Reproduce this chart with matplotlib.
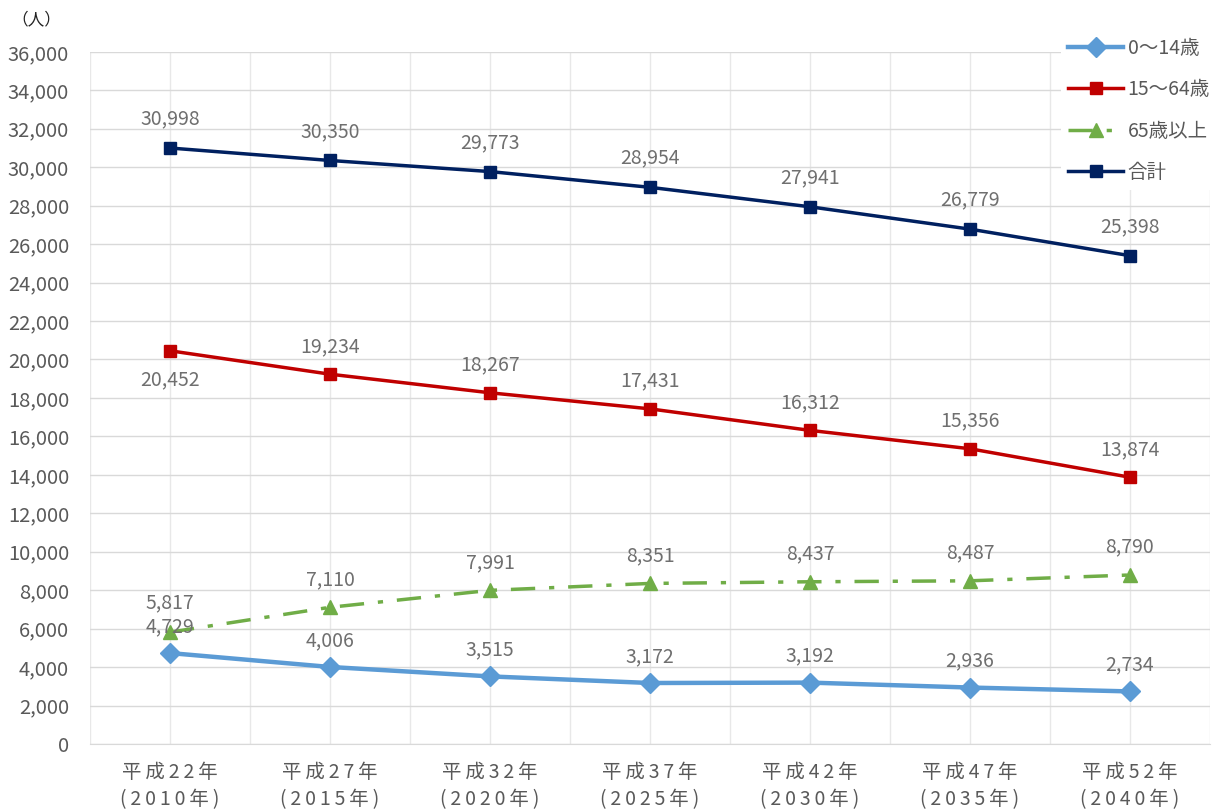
import numpy as np
import matplotlib.pyplot as plt
from matplotlib.ticker import FuncFormatter, MultipleLocator

plt.rcParams['font.family'] = ['Noto Sans CJK JP', 'DejaVu Sans']

years = ["平成22年\n(2010年)", "平成27年\n(2015年)", "平成32年\n(2020年)",
         "平成37年\n(2025年)", "平成42年\n(2030年)", "平成47年\n(2035年)",
         "平成52年\n(2040年)"]
age_0_14 = [4729, 4006, 3515, 3172, 3192, 2936, 2734]
age_15_64 = [20452, 19234, 18267, 17431, 16312, 15356, 13874]
age_65_up = [5817, 7110, 7991, 8351, 8437, 8487, 8790]
total = [30998, 30350, 29773, 28954, 27941, 26779, 25398]

text_col = '#595959'
label_col = '#6f6f6f'
x = np.arange(len(years))

fig = plt.figure(figsize=(12.16, 8.10), dpi=100)
ax = fig.add_axes([0.074, 0.0815, 0.921, 0.8545])

ax.plot(x, age_0_14, color='#5B9BD5', lw=3.2, marker='D', ms=10, label='0～14歳', zorder=3)
ax.plot(x, age_15_64, color='#C00000', lw=2.5, marker='s', ms=9, label='15～64歳', zorder=3)
ax.plot(x, age_65_up, color='#70AD47', lw=2.5, ls=(0, (7, 4, 1.5, 4)), marker='^', ms=10,
        label='65歳以上', zorder=3)
ax.plot(x, total, color='#002060', lw=2.5, marker='s', ms=9, label='合計', zorder=3)

def put_labels(vals, dy):
    for i, v in enumerate(vals):
        off = dy[i] if isinstance(dy, list) else dy
        ax.annotate(f'{v:,}', (i, v), xytext=(0, off), textcoords='offset points',
                    ha='center', va='center', fontsize=14, color=label_col, zorder=4)

put_labels(age_0_14, 19)
put_labels(age_15_64, [-21] + [20] * 6)
put_labels(age_65_up, [21] + [20] * 6)
put_labels(total, 21)

# spread the category labels out a little (letter spacing)
spaced = ['\n'.join('\u2009'.join(line) for line in y.split('\n')) for y in years]

ax.set_xlim(-0.5, len(years) - 0.5)
ax.set_ylim(0, 36000)
ax.yaxis.set_major_locator(MultipleLocator(2000))
ax.yaxis.set_major_formatter(FuncFormatter(lambda v, p: f'{int(v):,}'))
ax.set_xticks(x)
ax.set_xticklabels(spaced, fontsize=14, color=text_col, linespacing=1.4)
ax.set_xticks(np.arange(-0.5, len(years), 1.0), minor=True)
ax.tick_params(axis='y', labelsize=14.5, labelcolor=text_col, length=0, pad=15)
ax.tick_params(axis='x', which='both', length=0, pad=13)

ax.grid(axis='y', color='#D9D9D9', lw=1)
ax.grid(axis='x', which='both', color='#E8E8E8', lw=1)
ax.set_axisbelow(True)
for s in ['top', 'right', 'left']:
    ax.spines[s].set_visible(False)
ax.spines['bottom'].set_color('#D9D9D9')

fig.text(0.009, 0.975, '（人）', fontsize=12, color='#222222', va='center')

leg = ax.legend(loc='upper right', bbox_to_anchor=(1.006, 1.03), frameon=True,
                facecolor='white', edgecolor='none', framealpha=1, fontsize=14,
                labelspacing=1.05, handlelength=2.8, handletextpad=0.25, borderpad=0.35,
                borderaxespad=0)
for t in leg.get_texts():
    t.set_color(text_col)

fig.savefig('out.png', dpi=100)
